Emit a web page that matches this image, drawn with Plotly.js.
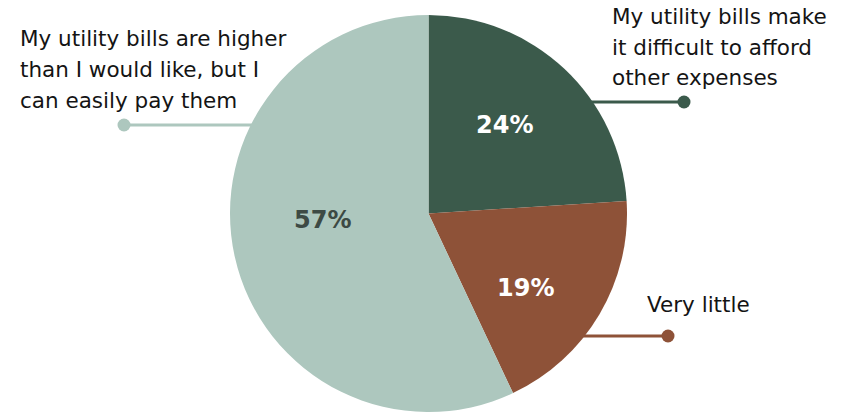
<!DOCTYPE html>
<html>
<head>
<meta charset="utf-8">
<script src="https://cdn.plot.ly/plotly-3.0.1.min.js"></script>
<style>
  html, body { margin: 0; padding: 0; background: #ffffff; }
  #chart { width: 843px; height: 413px; }
</style>
</head>
<body>
<div id="chart"></div>
<script>
// Survey answers, clockwise from 12 o'clock
const categories = [
  "My utility bills make it difficult to afford other expenses",
  "Very little",
  "My utility bills are higher than I would like, but I can easily pay them"
];
const shares = [24, 19, 57];
const sliceColors = ["#3b5a4b", "#8e5238", "#adc7be"];
const pctColors = ["#ffffff", "#ffffff", "#3d4a44"];

// Callout text, one entry per line
const calloutLines = [
  ["My utility bills make", "it difficult to afford", "other expenses"],
  ["Very little"],
  ["My utility bills are higher", "than I would like, but I", "can easily pay them"]
];

const W = 843, H = 413;
const px = x => x / W;
const py = y => 1 - y / H;

// pie geometry in pixels
const cx = 428.5, cy = 213.5, R = 198.5;

const trace = {
  type: "pie",
  labels: categories,
  values: shares,
  sort: false,
  direction: "clockwise",
  rotation: 0,
  hole: 0,
  marker: { colors: sliceColors, line: { width: 0 } },
  textinfo: "none",
  hoverinfo: "label+percent",
  showlegend: false,
  domain: { x: [px(cx - R), px(cx + R)], y: [py(cy + R), py(cy - R)] }
};

// percentage labels: placed along each slice's mid-angle, with a radial
// distance and small angular nudge per slice
const pctPlacement = [
  { r: 117, dAng: -2.7 },
  { r: 122, dAng: 6.8 },
  { r: 106, dAng: 9.1 }
];

const annotations = [];
const shapes = [];
const total = shares.reduce((a, b) => a + b, 0);
let cum = 0;
shares.forEach((v, i) => {
  const mid = (cum + v / 2) / total * 360;
  cum += v;
  const a = (mid + pctPlacement[i].dAng) * Math.PI / 180;
  const x = cx + pctPlacement[i].r * Math.sin(a);
  const y = cy - pctPlacement[i].r * Math.cos(a);
  annotations.push({
    xref: "paper", yref: "paper",
    x: px(x), y: py(y),
    xanchor: "center", yanchor: "middle",
    text: "<b>" + v + "%</b>", showarrow: false,
    font: { family: "DejaVu Sans", size: 24, color: pctColors[i] }
  });
});

// callout layout: text anchor, line spacing, leader line with end dot
const callouts = [
  { x: 610, y: 17, dy: 30.5, lineY: 102, x0: 560, dotX: 684 },
  { x: 645, y: 304, dy: 0, lineY: 336, x0: 560, dotX: 668 },
  { x: 18, y: 38.5, dy: 31, lineY: 125, x0: 300, dotX: 124 }
];

callouts.forEach((c, i) => {
  calloutLines[i].forEach((t, k) => {
    annotations.push({
      xref: "paper", yref: "paper",
      x: px(c.x), y: py(c.y + k * c.dy),
      xanchor: "left", yanchor: "middle",
      text: t, showarrow: false,
      font: { family: "DejaVu Sans", size: 21.5, color: "#141414" }
    });
  });
  shapes.push({
    type: "line", xref: "paper", yref: "paper",
    x0: px(c.x0), x1: px(c.dotX), y0: py(c.lineY), y1: py(c.lineY),
    line: { color: sliceColors[i], width: 3 }, layer: "below"
  });
  const r = 6.5;
  shapes.push({
    type: "circle", xref: "paper", yref: "paper",
    x0: px(c.dotX - r), x1: px(c.dotX + r), y0: py(c.lineY + r), y1: py(c.lineY - r),
    fillcolor: sliceColors[i], line: { width: 0 }
  });
});

const layout = {
  width: W, height: H,
  margin: { l: 0, r: 0, t: 0, b: 0 },
  paper_bgcolor: "#ffffff",
  plot_bgcolor: "#ffffff",
  annotations: annotations,
  shapes: shapes
};

Plotly.newPlot("chart", [trace], layout, { displayModeBar: false, staticPlot: true });
</script>
</body>
</html>
